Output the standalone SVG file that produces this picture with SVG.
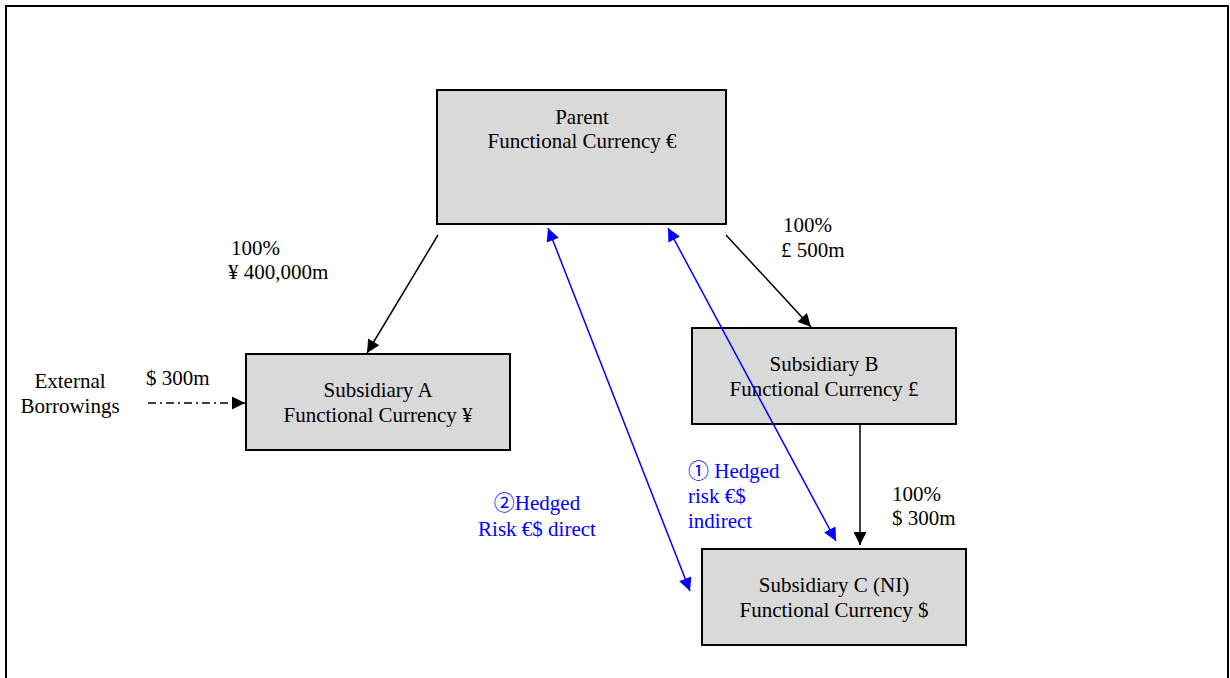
<svg xmlns="http://www.w3.org/2000/svg" width="1230" height="678" viewBox="0 0 1230 678">
<style>
text{font-family:"Liberation Serif","DejaVu Serif","Noto Sans CJK JP",serif;font-size:21px;fill:#000}
.c{text-anchor:middle}
.b{fill:#0000ff}
.box{fill:#d9d9d9;stroke:#000;stroke-width:2}
.k{stroke:#000;stroke-width:1.5;fill:none}
.bl{stroke:#0000ff;stroke-width:1.5;fill:none}
</style>
<defs>
<marker id="ak" viewBox="0 0 10 10" refX="10" refY="5" markerWidth="15" markerHeight="13" markerUnits="userSpaceOnUse" orient="auto"><path d="M0,0L10,5L0,10z" fill="#000"/></marker>
<marker id="ab" viewBox="0 0 10 10" refX="10" refY="5" markerWidth="15" markerHeight="13" markerUnits="userSpaceOnUse" orient="auto-start-reverse"><path d="M0,0L10,5L0,10z" fill="#0000ff"/></marker>
</defs>
<rect x="6" y="6" width="1222" height="700" fill="#fff" stroke="#000" stroke-width="2"/>
<g id="parent"><rect class="box" x="437" y="90" width="289" height="134"/><text class="c" x="582" y="124">Parent</text><text class="c" x="582" y="148">Functional Currency €</text></g>
<g id="subA"><rect class="box" x="246" y="354" width="264" height="96"/><text class="c" x="378" y="397">Subsidiary A</text><text class="c" x="378" y="422">Functional Currency ¥</text></g>
<g id="subB"><rect class="box" x="692" y="328" width="264" height="96"/><text class="c" x="824" y="371">Subsidiary B</text><text class="c" x="824" y="396">Functional Currency £</text></g>
<g id="subC"><rect class="box" x="702" y="549" width="264" height="96"/><text class="c" x="834" y="592">Subsidiary C (NI)</text><text class="c" x="834" y="617">Functional Currency $</text></g>
<g id="ext"><text class="c" x="70" y="388">External</text><text class="c" x="70" y="413">Borrowings</text></g>
<g id="connectors">
<line class="k" x1="438" y1="235" x2="367" y2="353" marker-end="url(#ak)"/>
<line class="k" x1="726" y1="235" x2="811" y2="327" marker-end="url(#ak)"/>
<line class="k" x1="860" y1="424" x2="860" y2="545" marker-end="url(#ak)"/>
<line class="k" x1="148" y1="403" x2="245" y2="403" stroke-dasharray="8,4,2,4" marker-end="url(#ak)"/>
<line class="bl" x1="548" y1="228" x2="690" y2="591" marker-start="url(#ab)" marker-end="url(#ab)"/>
<line class="bl" x1="668" y1="228" x2="836" y2="541" marker-start="url(#ab)" marker-end="url(#ab)"/>
<text x="231" y="255">100%</text><text x="228" y="279">¥ 400,000m</text>
<text x="783" y="232">100%</text><text x="781" y="257">£ 500m</text>
<text x="892" y="501">100%</text><text x="892" y="525">$ 300m</text>
<text x="146" y="385">$ 300m</text>
<text class="c b" x="537" y="510">②Hedged</text><text class="c b" x="537" y="536">Risk €$ direct</text>
<text class="b" x="688" y="478">① Hedged</text><text class="b" x="688" y="503">risk €$</text><text class="b" x="688" y="528">indirect</text>
</g>
</svg>
